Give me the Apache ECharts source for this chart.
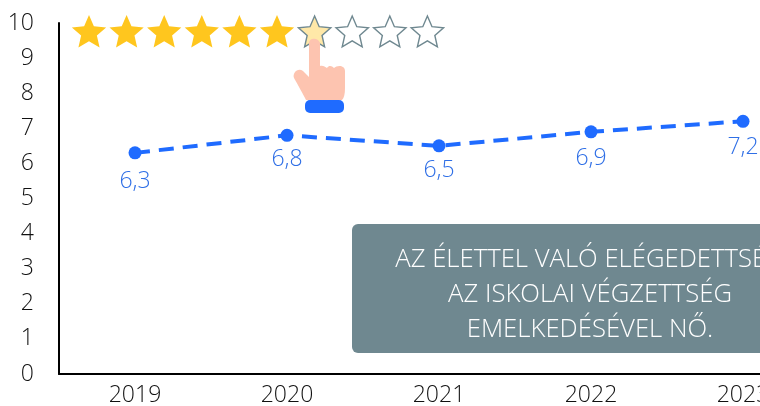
<!DOCTYPE html>
<html>
<head>
<meta charset="utf-8">
<style>
html, body { margin: 0; padding: 0; background: #fff; overflow: hidden; }
#chart { width: 760px; height: 406px; }
</style>
<script src="https://cdn.jsdelivr.net/npm/echarts@6/dist/echarts.min.js"></script>
</head>
<body>
<div id="chart"></div>
<script>
var years = ['2019', '2020', '2021', '2022', '2023'];
var satisfaction = [6.3, 6.8, 6.5, 6.9, 7.2];
var yTicks = [0, 1, 2, 3, 4, 5, 6, 7, 8, 9, 10];
var ratingLines = ['AZ ÉLETTEL VALÓ ELÉGEDETTSÉG', 'AZ ISKOLAI VÉGZETTSÉG', 'EMELKEDÉSÉVEL NŐ.'];
var starFills = ['#FFC61E', '#FFC61E', '#FFC61E', '#FFC61E', '#FFC61E', '#FFC61E', '#FFE8A8', '#fff', '#fff', '#fff'];

var fontName = '"Open Sans"';
var blue = '#1F6BFF';
var slate = '#6F8890';
var labelGaps = [11, 6, 7, 9, 8];
var handPath = 'M309 43 C309 38 318 37 320 43 L320 66 C323 65 325 67 327 68 C329 65 332 66 334 68 C337 65 345 65 345 71 L345 88 C345 94 344 98 342 100 L306 100 C303 94 298 85 294 78 C292 73 298 67 303 71 L309 77 Z';

// graphic has no plain path type, so the hand goes in as a custom shape
echarts.graphic.registerShape('hand', echarts.graphic.extendPath(handPath, {}));

function starPoints(cx, cy, r) {
    var pts = [];
    for (var i = 0; i < 10; i++) {
        var rad = i % 2 ? r * 0.46 : r;
        var a = -Math.PI / 2 + i * Math.PI / 5;
        pts.push([cx + rad * Math.cos(a), cy + rad * Math.sin(a)]);
    }
    return pts;
}

var graphics = [];

// score box
graphics.push({
    type: 'rect',
    shape: { x: 352, y: 224, width: 430, height: 129, r: 6 },
    style: { fill: slate }
});
ratingLines.forEach(function (line, i) {
    graphics.push({
        type: 'text',
        x: 590,
        y: 260 + i * 35,
        style: {
            text: line,
            fill: '#fff',
            font: '300 25.7px ' + fontName,
            align: 'center',
            verticalAlign: 'middle'
        }
    });
});

// rating stars
starFills.forEach(function (fill, i) {
    var filled = i < 6;
    graphics.push({
        type: 'polygon',
        shape: { points: starPoints(89 + i * 37.6, 33, filled ? 18 : 17) },
        style: {
            fill: fill,
            stroke: filled ? fill : slate,
            lineWidth: filled ? 0 : 1.4
        }
    });
});

// pointing hand
graphics.push({
    type: 'hand',
    style: { fill: '#FDC4B0' }
});
graphics.push({
    type: 'rect',
    shape: { x: 305, y: 100, width: 39, height: 13, r: 5 },
    style: { fill: blue }
});

var mychart = echarts.init(document.getElementById('chart'));
var option = {
    animation: false,
    backgroundColor: '#fff',
    textStyle: { fontFamily: fontName },
    // the last category runs off the right edge of the page on purpose
    grid: { left: 59, top: 23, width: 760, height: 351, outerBoundsMode: 'none' },
    xAxis: {
        type: 'category',
        data: years,
        boundaryGap: true,
        axisLine: { lineStyle: { color: '#000', width: 2 } },
        axisTick: { show: false },
        splitLine: { show: false },
        axisLabel: { color: '#111', fontSize: 23, margin: 10, fontFamily: fontName, fontWeight: 300, hideOverlap: false, showMaxLabel: true }
    },
    yAxis: {
        type: 'value',
        min: yTicks[0],
        max: yTicks[yTicks.length - 1],
        interval: 1,
        axisLine: { show: true, lineStyle: { color: '#000', width: 2 } },
        axisTick: { show: false },
        splitLine: { show: false },
        axisLabel: { color: '#111', fontSize: 23, margin: 25, padding: [6, 0, 0, 0], fontFamily: fontName, fontWeight: 300 }
    },
    series: [{
        type: 'line',
        data: satisfaction.map(function (v, i) {
            return { value: v, label: { distance: labelGaps[i] } };
        }),
        symbol: 'circle',
        symbolSize: 13,
        itemStyle: { color: blue },
        lineStyle: { color: blue, width: 4, type: [15, 9] },
        label: {
            show: true,
            position: 'bottom',
            color: '#2F6FE6',
            fontSize: 23,
            fontWeight: 300,
            fontFamily: fontName,
            formatter: function (p) { return String(p.value).replace('.', ','); }
        },
        z: 3
    }],
    graphic: { elements: graphics }
};
mychart.setOption(option);
</script>
</body>
</html>
